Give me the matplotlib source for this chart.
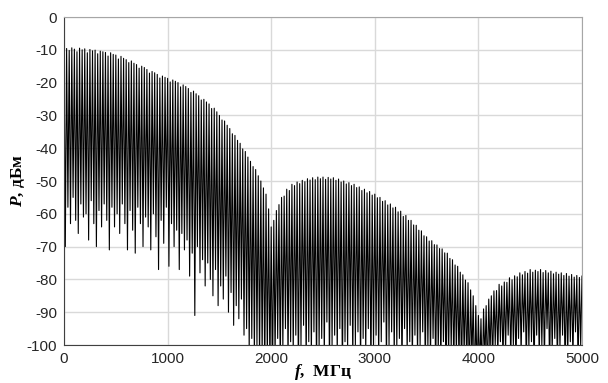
import numpy as np
import matplotlib
matplotlib.use("Agg")
import matplotlib.pyplot as plt

# spectrum peaks, one every 25 MHz from 0 to 5000 MHz (dBm)
peak_dbm = [
    -10.5, -9.6, -10.2, -9.4, -9.8, -10.6, -9.5, -10.0,
    -9.7, -10.9, -9.9, -10.3, -10.1, -11.2, -10.4, -10.6,
    -10.8, -11.9, -10.9, -11.4, -11.6, -12.8, -12.0, -12.6,
    -13.0, -13.9, -13.4, -14.1, -14.5, -15.6, -15.0, -15.4,
    -16.0, -17.1, -16.6, -17.0, -17.5, -18.6, -18.0, -18.4,
    -18.7, -19.8, -19.2, -19.6, -20.0, -21.3, -20.7, -21.2,
    -21.8, -23.0, -22.6, -23.4, -24.0, -25.3, -25.1, -25.9,
    -26.5, -27.9, -27.8, -28.9, -30.0, -31.4, -31.7, -33.0,
    -34.0, -35.6, -36.1, -37.6, -38.5, -40.2, -41.0, -42.7,
    -44.0, -45.6, -46.5, -48.4, -50.0, -52.1, -54.0, -58.5,
    -64.0, -62.0, -59.0, -57.2, -55.0, -54.6, -52.5, -52.9,
    -51.0, -51.4, -50.3, -50.8, -49.8, -50.2, -49.3, -49.7,
    -49.0, -49.6, -48.8, -49.3, -48.8, -49.5, -48.9, -49.4,
    -49.0, -49.8, -49.4, -50.3, -50.0, -50.9, -50.5, -51.4,
    -51.0, -52.0, -51.8, -52.9, -52.5, -53.6, -53.2, -54.3,
    -54.0, -55.1, -55.0, -56.2, -56.0, -57.3, -57.0, -58.2,
    -58.0, -59.4, -59.2, -60.8, -60.5, -62.0, -62.0, -63.4,
    -63.5, -65.0, -65.2, -66.7, -67.0, -68.3, -68.2, -69.4,
    -69.5, -70.6, -70.7, -71.9, -72.0, -73.6, -74.0, -75.6,
    -76.0, -77.8, -78.6, -80.2, -81.0, -83.2, -85.0, -88.0,
    -91.0, -92.0, -89.0, -88.0, -86.0, -85.0, -83.5, -83.4,
    -81.5, -82.0, -80.8, -80.9, -79.5, -80.1, -78.9, -79.2,
    -78.0, -78.6, -77.6, -78.1, -77.0, -77.8, -77.2, -77.6,
    -77.0, -77.9, -77.3, -78.0, -77.5, -78.3, -77.8, -78.4,
    -78.0, -78.8, -78.2, -79.0, -78.5, -79.3, -78.8, -79.4,
    -79.0,
]

# troughs between neighbouring peaks (dBm)
trough_dbm = [
    -70, -58, -63, -55, -62, -66, -57, -61,
    -60, -68, -56, -63, -70, -59, -64, -57,
    -62, -71, -58, -64, -60, -66, -57, -63,
    -71, -59, -65, -72, -58, -63, -70, -61,
    -64, -71, -60, -67, -77, -62, -69, -58,
    -76, -63, -70, -65, -77, -66, -71, -68,
    -79, -72, -91, -70, -78, -74, -82, -75,
    -80, -85, -77, -88, -82, -86, -79, -90,
    -84, -94, -88, -92, -86, -97, -95, -102,
    -98, -104, -100, -106, -103, -110, -105, -108,
    -112, -104, -98, -108, -101, -95, -106, -99,
    -103, -97, -110, -100, -94, -107, -99, -104,
    -96, -109, -101, -98, -105, -93, -108, -100,
    -97, -104, -95, -111, -99, -102, -94, -106,
    -100, -96, -108, -98, -103, -95, -110, -101,
    -97, -105, -99, -93, -107, -100, -96, -104,
    -101, -98, -109, -95, -103, -99, -106, -97,
    -104, -100, -96, -108, -101, -105, -98, -110,
    -102, -107, -99, -112, -104, -101, -108, -103,
    -106, -110, -103, -108, -112, -105, -115, -110,
    -108, -112, -105, -110, -103, -107, -100, -104,
    -99, -106, -102, -97, -105, -100, -108, -98,
    -103, -96, -107, -101, -99, -110, -97, -104,
    -100, -105, -95, -108, -102, -98, -106, -101,
    -97, -109, -103, -99, -105, -96, -107, -100,
]

x_ticks = [0, 1000, 2000, 3000, 4000, 5000]
y_ticks = [0, -10, -20, -30, -40, -50, -60, -70, -80, -90, -100]

# sweep grid of the analyzer: peaks every 25 MHz, troughs halfway
f_peak = np.arange(0, 5001, 25)
f = np.empty(len(peak_dbm) + len(trough_dbm))
p = np.empty_like(f)
f[0::2] = f_peak
f[1::2] = f_peak[:-1] + 12.5
p[0::2] = peak_dbm
p[1::2] = trough_dbm

plt.rcParams["font.family"] = "Liberation Sans"
plt.rcParams["axes.unicode_minus"] = False
plt.rcParams["mathtext.fontset"] = "custom"
plt.rcParams["mathtext.it"] = "Liberation Serif:italic:bold"
plt.rcParams["mathtext.rm"] = "Liberation Serif:bold"

fig = plt.figure(figsize=(6.08, 3.83), dpi=100)
ax = fig.add_axes([0.1053, 0.0992, 0.8519, 0.8564])

ax.plot(f, p, color="black", lw=0.8)

ax.set_xlim(0, 5000)
ax.set_ylim(-100, 0)
ax.set_xticks(x_ticks)
ax.set_yticks(y_ticks)
ax.tick_params(length=0, labelsize=11, colors="#262626", pad=5)
ax.grid(True, color="#d9d9d9", lw=1)
ax.set_axisbelow(True)
for s in ["left", "bottom"]:
    ax.spines[s].set_color("#404040")
for s in ["top", "right"]:
    ax.spines[s].set_color("#a6a6a6")

ax.set_xlabel(r"$f$,  МГц", fontfamily="Liberation Serif", fontweight="bold",
              fontsize=12.5, labelpad=-3)
ax.set_ylabel(r"$P$, дБм", fontfamily="Liberation Serif", fontweight="bold",
              fontsize=12.5, labelpad=0)

plt.savefig("out.png", dpi=100)
plt.close()
